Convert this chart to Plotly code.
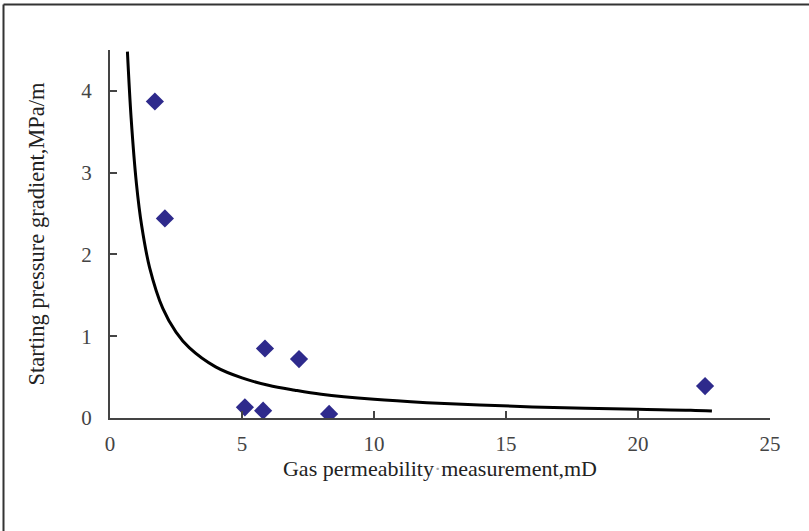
import plotly.graph_objects as go

# Measured data points (gas permeability mD, starting pressure gradient MPa/m)
perm_x = [1.70, 2.08, 5.87, 7.16, 5.11, 5.80, 8.30, 22.54]
grad_y = [3.87, 2.44, 0.85, 0.72, 0.13, 0.09, 0.05, 0.39]

# Fitted trend curve
curve_x = [0.66, 0.8, 1.0, 1.2, 1.5, 2.0, 2.5, 3.0, 4.0, 5.0, 6.0, 7.0, 8.0,
           10.0, 12.0, 14.0, 16.0, 18.0, 20.0, 22.0, 22.8]
curve_y = [4.48, 3.67, 2.87, 2.35, 1.84, 1.34, 1.05, 0.86, 0.625, 0.49, 0.40,
           0.34, 0.29, 0.228, 0.187, 0.158, 0.136, 0.119, 0.106, 0.096, 0.085]

x_ticks = [0, 5, 10, 15, 20, 25]
y_ticks = [0, 1, 2, 3, 4]

fig = go.Figure()
fig.add_trace(go.Scatter(x=curve_x, y=curve_y, mode="lines",
                         line=dict(color="black", width=3, shape="spline"),
                         showlegend=False, hoverinfo="skip"))
fig.add_trace(go.Scatter(x=perm_x, y=grad_y, mode="markers",
                         marker=dict(symbol="diamond", size=14, color="#2E2A8C"),
                         showlegend=False))

font_family = "Liberation Serif, Times New Roman, serif"
L, R, T, B = 110, 39, 50, 113
W, H = 809, 531
pw = W - L - R
ph = H - T - B

fig.update_layout(
    width=W, height=H,
    margin=dict(l=L, r=R, t=T, b=B),
    paper_bgcolor="white", plot_bgcolor="white",
    font=dict(family=font_family, color="#333"),
    xaxis=dict(range=[0, 25], tickvals=x_ticks, ticks="inside", ticklen=7,
               tickwidth=1.5, tickcolor="#444", showgrid=False, zeroline=False,
               showline=True, linecolor="#444", linewidth=2,
               tickfont=dict(size=21, family=font_family, color="#444"),
               ticklabelstandoff=6,
               title=dict(text="Gas permeability<span style='color:#aaa'>·</span>measurement,mD",
                          font=dict(size=22, family=font_family, color="#222"),
                          standoff=4)),
    yaxis=dict(range=[0, 4.5], tickvals=y_ticks, ticks="inside", ticklen=7,
               tickwidth=1.5, tickcolor="#444", showgrid=False, zeroline=False,
               showline=True, linecolor="#444", linewidth=2,
               tickfont=dict(size=21, family=font_family, color="#444"),
               ticklabelstandoff=12,
               title=dict(text="Starting pressure gradient,MPa/m",
                          font=dict(size=22.5, family=font_family, color="#222"),
                          standoff=30)),
)

# Frame lines (top and left) around the figure
def px_to_paper_x(px):
    return (px - L) / pw

def py_to_paper_y(py):
    return (H - B - py) / ph

fig.add_shape(type="line", xref="paper", yref="paper",
              x0=px_to_paper_x(3.5), x1=px_to_paper_x(812),
              y0=py_to_paper_y(4.5), y1=py_to_paper_y(4.5),
              line=dict(color="#333", width=2))
fig.add_shape(type="line", xref="paper", yref="paper",
              x0=px_to_paper_x(3.5), x1=px_to_paper_x(3.5),
              y0=py_to_paper_y(4.5), y1=py_to_paper_y(535),
              line=dict(color="#333", width=2))

fig.write_html("out.html")
